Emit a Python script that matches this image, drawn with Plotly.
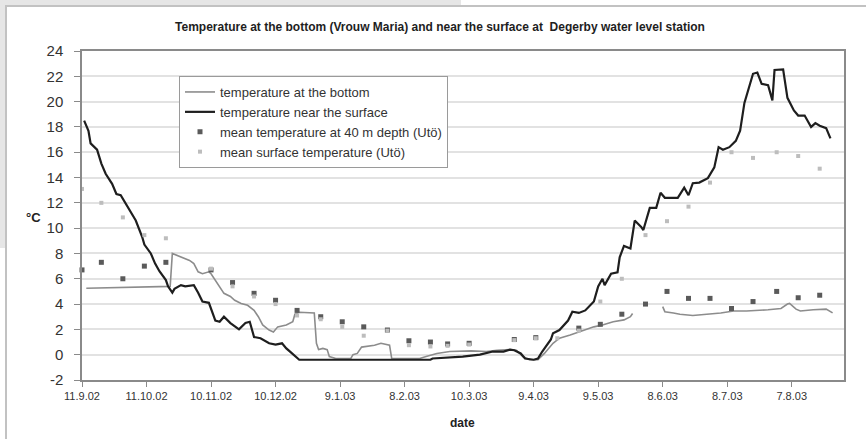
from datetime import datetime

import pandas as pd
import plotly.graph_objects as go

START = pd.Timestamp("2002-09-11")

# Temperature near the surface at Degerby water level station (°C), by day since 11.9.02
surface_day = [1, 3, 4, 7, 9, 11, 14, 16, 18, 19, 21, 25, 28, 29, 32, 34, 36, 39, 40, 42,
               43, 46, 48, 52, 54, 56, 59, 62, 64, 66, 69, 73, 76, 78, 80, 83, 87, 90, 93, 95,
               97, 100, 101, 162, 163, 177, 185, 191, 196, 199, 201, 204, 206, 210, 212, 214, 218, 219, 222, 226,
               228, 231, 234, 238, 240, 242, 243, 246, 249, 250, 252, 255, 257, 260, 261, 264, 267, 269, 271, 277,
               280, 282, 284, 287, 291, 294, 296, 298, 301, 304, 306, 308, 312, 314, 316, 319, 321, 322, 326, 328,
               331, 333, 336, 339, 341, 343, 346, 348]
surface_temp = [18.5, 17.7, 16.7, 16.2, 15.1, 14.3, 13.5, 12.7, 12.6, 12.3, 11.7, 10.6, 9.3, 8.7, 8.0, 7.2, 6.6, 5.9, 5.4, 4.9,
                5.2, 5.5, 5.4, 5.5, 4.9, 4.2, 4.1, 2.7, 2.6, 3.0, 2.5, 2.0, 2.5, 2.6, 1.4, 1.3, 0.9, 0.8, 0.9, 0.5,
                0.2, -0.3, -0.4, -0.4, -0.3, -0.15, 0.0, 0.25, 0.25, 0.4, 0.35, 0.1, -0.3, -0.4, -0.3, 0.25, 1.2, 1.7, 1.95, 2.7,
                3.4, 3.3, 3.5, 4.2, 5.4, 6.0, 5.5, 6.4, 6.5, 7.7, 8.6, 8.4, 10.6, 10.1, 9.85, 11.6, 11.6, 12.8, 12.4, 12.4,
                13.2, 12.6, 13.55, 13.6, 13.95, 14.8, 16.4, 16.2, 16.4, 16.9, 17.7, 19.9, 22.2, 22.3, 21.4, 21.3, 20.1, 22.5, 22.55, 20.3,
                19.3, 18.9, 18.9, 18.0, 18.3, 18.1, 17.9, 17.1]

# Temperature at the bottom at the Vrouw Maria site (°C); None = no record
bottom_day = [2, 20, 35, 41, 42, 45, 48, 50, 52, 54, 56, 59, 60, 62, 64, 66, 69, 71, 74, 77,
              80, 82, 84, 87, 89, 91, 95, 98, 99, 101, 108, 109, 110, 112, 114, 115, 118, 125, 126, 128,
              130, 136, 139, 143, 144, 157, 160, 165, 171, 181, 188, 193, 199, 202, 205, 208, 212, 215, 219, 222,
              227, 231, 234, 238, 242, 247, 252, 255, 256, 262, 270, 271, 275, 278, 284, 291, 297, 303, 309, 319,
              325, 328, 329, 332, 334, 340, 346, 349]
bottom_temp = [5.25, 5.3, 5.35, 5.4, 8.0, 7.8, 7.6, 7.45, 7.2, 6.55, 6.4, 6.55, 6.4, 5.9, 5.4, 4.85, 4.6, 4.3, 4.05, 3.9,
               3.5, 3.0, 2.35, 1.95, 1.8, 2.2, 2.35, 2.6, 3.2, 3.35, 3.3, 0.9, 0.4, 0.5, 0.4, -0.15, -0.3, -0.3, 0.0, 0.1,
               0.6, 0.75, 0.9, 0.75, -0.3, -0.3, -0.15, 0.1, 0.25, 0.3, 0.25, 0.35, 0.4, 0.35, -0.15, -0.4, -0.4, 0.1, 0.9, 1.3,
               1.55, 1.8, 1.95, 2.2, 2.35, 2.6, 2.75, 3.0, 3.25, None, 3.8, 3.4, 3.3, 3.2, 3.1, 3.2, 3.3, 3.45, 3.45, 3.55,
               3.65, 4.0, 4.05, 3.6, 3.45, 3.55, 3.6, 3.3]

# Utö ten-day means
mean40_day = [0, 9, 19, 29, 39, 60, 70, 80, 90, 100, 111, 121, 131, 142, 152, 162, 170, 180, 201, 211,
              231, 241, 251, 262, 272, 282, 292, 302, 312, 323, 333, 343]
mean40_temp = [6.7, 7.3, 6.0, 7.0, 7.3, 6.7, 5.7, 4.85, 4.3, 3.5, 3.0, 2.6, 2.2, 1.95, 1.1, 1.0, 0.85, 0.9, 1.2, 1.35,
               2.1, 2.4, 3.2, 4.0, 5.0, 4.45, 4.45, 3.65, 4.2, 5.0, 4.5, 4.7]

meansurf_day = [0, 9, 19, 29, 39, 60, 70, 80, 90, 100, 111, 121, 131, 142, 152, 162, 170, 180, 201, 211,
                221, 231, 241, 251, 262, 272, 282, 292, 302, 312, 323, 333, 343]
meansurf_temp = [13.1, 12.0, 10.85, 9.45, 9.2, 6.8, 5.4, 4.6, 4.0, 3.1, 2.8, 2.2, 1.5, 1.9, 0.75, 0.65, 0.7, 0.8, 1.15, 1.3,
                 1.3, 1.9, 4.2, 6.0, 9.45, 10.55, 11.7, 13.6, 16.0, 15.55, 16.0, 15.7, 14.7]

tick_labels = ["11.9.02", "11.10.02", "10.11.02", "10.12.02", "9.1.03", "8.2.03",
               "10.3.03", "9.4.03", "9.5.03", "8.6.03", "8.7.03", "7.8.03"]
y_ticks = list(range(-2, 25, 2))

FONT = "Liberation Sans, Arial, sans-serif"
W, H = 866, 439
L, R, T, B = 82, 22, 51, 59
PW, PH = W - L - R, H - T - B


def to_dates(days):
    return [START + pd.Timedelta(days=d) for d in days]


def px_x(px):
    return (px - L) / PW


def px_y(py):
    return (H - B - py) / PH


tick_dates = [datetime.strptime(s, "%d.%m.%y") for s in tick_labels]

fig = go.Figure()
fig.add_trace(go.Scatter(
    x=to_dates(bottom_day), y=bottom_temp, mode="lines", connectgaps=False,
    name="temperature at the bottom", line=dict(color="#8c8c8c", width=1.6)))
fig.add_trace(go.Scatter(
    x=to_dates(surface_day), y=surface_temp, mode="lines",
    name="temperature near the surface", line=dict(color="#1e1e1e", width=2.2)))
fig.add_trace(go.Scatter(
    x=to_dates(mean40_day), y=mean40_temp, mode="markers", cliponaxis=False,
    name="mean temperature at 40 m depth (Utö)",
    marker=dict(symbol="square", size=5, color="#5a5a5a")))
fig.add_trace(go.Scatter(
    x=to_dates(meansurf_day), y=meansurf_temp, mode="markers", cliponaxis=False,
    name="mean surface temperature (Utö)",
    marker=dict(symbol="square", size=4, color="#bdbdbd")))

# Outer chart frame with its grey header strip
shapes = [
    dict(type="rect", xref="paper", yref="paper", x0=px_x(0), x1=px_x(461), y0=px_y(0), y1=px_y(5),
         fillcolor="#e6e6e6", line=dict(width=0)),
    dict(type="rect", xref="paper", yref="paper", x0=px_x(0), x1=px_x(5), y0=px_y(5), y1=px_y(248),
         fillcolor="#e6e6e6", line=dict(width=0)),
    dict(type="line", xref="paper", yref="paper", x0=px_x(5), x1=px_x(866), y0=px_y(6), y1=px_y(6),
         line=dict(color="#c2c2c2", width=2)),
    dict(type="line", xref="paper", yref="paper", x0=px_x(6), x1=px_x(6), y0=px_y(6), y1=px_y(439),
         line=dict(color="#c2c2c2", width=2)),
]

annotations = [
    dict(text="<b>°C</b>", xref="paper", yref="paper", x=px_x(24), y=px_y(217),
         showarrow=False, font=dict(family=FONT, size=13, color="#222")),
    dict(text="<b>date</b>", xref="paper", yref="paper", x=px_x(462), y=px_y(432),
         showarrow=False, font=dict(family=FONT, size=12, color="#222")),
]

fig.update_layout(
    width=W, height=H,
    margin=dict(l=L, r=R, t=T, b=B),
    paper_bgcolor="white", plot_bgcolor="white",
    font=dict(family=FONT, color="#333"),
    title=dict(text="<b>Temperature at the bottom (Vrouw Maria) and near the surface at \u00a0Degerby water level station</b>",
               x=440 / W, xanchor="center", y=1 - 27 / H, yanchor="middle",
               font=dict(family=FONT, size=12, color="#1e1e1e")),
    showlegend=True,
    legend=dict(x=px_x(179), y=px_y(76), xanchor="left", yanchor="top",
                bgcolor="white", bordercolor="#9a9a9a", borderwidth=1,
                font=dict(family=FONT, size=13, color="#333"), itemwidth=30),
    shapes=shapes,
    annotations=annotations,
)

fig.update_xaxes(
    type="date",
    range=[START, START + pd.Timedelta(days=354.3)],
    tickmode="array", tickvals=tick_dates, ticktext=tick_labels,
    ticks="outside", ticklen=5, tickcolor="#8a8a8a",
    tickfont=dict(family=FONT, size=11, color="#333"),
    showgrid=False, zeroline=False,
    showline=True, linecolor="#8a8a8a", linewidth=1.5, mirror=True,
)
fig.update_yaxes(
    range=[-2, 24], tickmode="array", tickvals=y_ticks, ticktext=[str(v) for v in y_ticks],
    ticks="outside", ticklen=6, tickcolor="#8a8a8a", ticklabelstandoff=8,
    tickfont=dict(family=FONT, size=15, color="#333"),
    showgrid=True, gridcolor="#e2e2e2", gridwidth=1.5, zeroline=False,
    showline=True, linecolor="#8a8a8a", linewidth=1.5, mirror=True,
)

fig.write_html("out.html")
